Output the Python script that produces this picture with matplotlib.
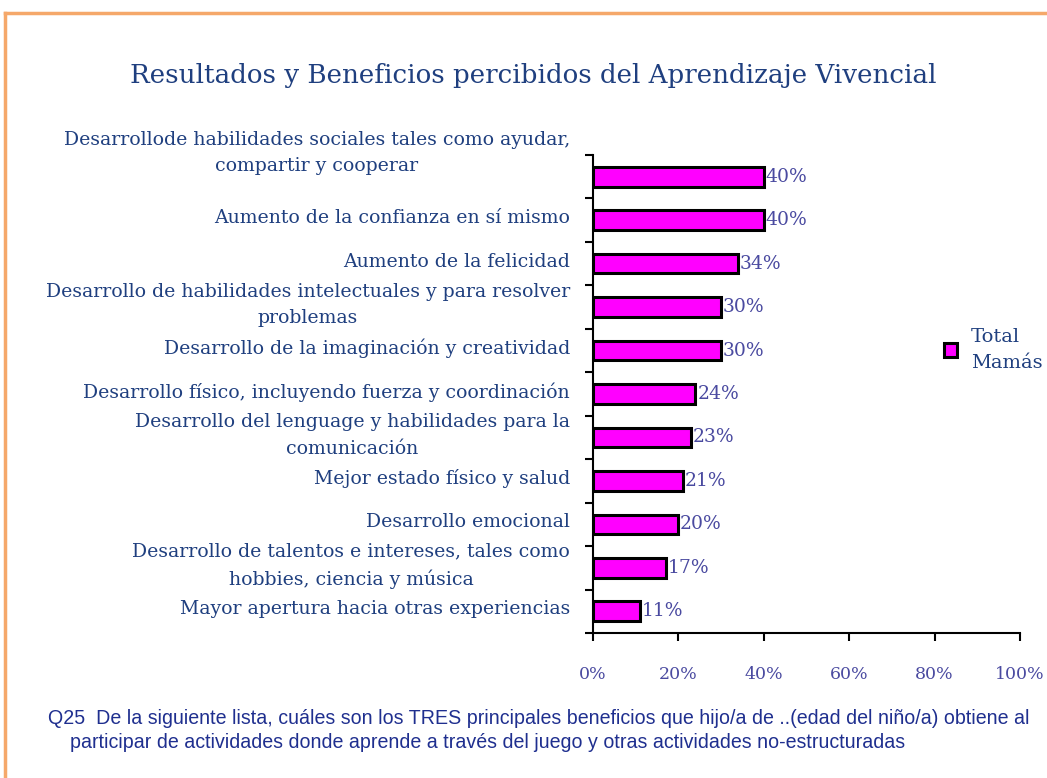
import matplotlib.pyplot as plt
from matplotlib.patches import Rectangle
from matplotlib.lines import Line2D
from matplotlib.transforms import ScaledTranslation, blended_transform_factory
import numpy as np

categories = [
    "Desarrollode habilidades sociales tales como ayudar,\ncompartir y cooperar",
    "Aumento de la confianza en sí mismo",
    "Aumento de la felicidad",
    "Desarrollo de habilidades intelectuales y para resolver\nproblemas",
    "Desarrollo de la imaginación y creatividad",
    "Desarrollo físico, incluyendo fuerza y coordinación",
    "Desarrollo del lenguage y habilidades para la\ncomunicación",
    "Mejor estado físico y salud",
    "Desarrollo emocional",
    "Desarrollo de talentos e intereses, tales como\nhobbies, ciencia y música",
    "Mayor apertura hacia otras experiencias",
]
values = [40, 40, 34, 30, 30, 24, 23, 21, 20, 17, 11]
xticks = [0, 20, 40, 60, 80, 100]
xtick_labels = ["0%", "20%", "40%", "60%", "80%", "100%"]
series_name = "Total\nMamás"

label_blue = "#1f3f7f"
value_blue = "#4a4aa0"
serif = "DejaVu Serif"

fig = plt.figure(figsize=(10.47, 7.78), dpi=100)
fig.patch.set_facecolor("white")

# orange frame on left and top
fig.add_artist(Line2D([5 / 1047, 5 / 1047], [0, 1 - 13 / 778], color="#f5a86a", lw=2.5, transform=fig.transFigure))
fig.add_artist(Line2D([5 / 1047, 1], [1 - 13 / 778, 1 - 13 / 778], color="#f5a86a", lw=2.5, transform=fig.transFigure))

ax = fig.add_axes([593 / 1047, 1 - 633 / 778, 427 / 1047, (633 - 155) / 778])

y = np.arange(len(categories))
ax.barh(y, values, height=0.45, color="#ff00ff", edgecolor="black", linewidth=2.2)
for yi, v in zip(y, values):
    ax.text(v + 0.4, yi, f"{v}%", va="center", ha="left", color=value_blue,
            fontsize=13.5, family=serif)

ax.set_xlim(0, 100)
ax.set_ylim(len(categories) - 0.5, -0.5)

# category labels, drawn as text so the first one can sit a bit higher
lab_tr = blended_transform_factory(ax.transAxes, ax.transData)
for yi, cat in zip(y, categories):
    dy = 0.24 if yi == 0 else 0.02
    ax.text(0, yi, cat, ha="right", va="center", multialignment="center",
            fontsize=13.6, family=serif, color=label_blue, linespacing=1.6,
            transform=lab_tr + ScaledTranslation(-0.23, dy, fig.dpi_scale_trans))

ax.set_yticks(np.arange(-0.5, len(categories)))
ax.set_yticklabels([])
ax.tick_params(axis="y", length=6, width=1.5, direction="out")
ax.set_xticks(xticks)
ax.set_xticklabels(xtick_labels, fontsize=12.5, family=serif, color=value_blue)
ax.tick_params(axis="x", length=6, width=1.5, direction="out", pad=18)

for s in ["top", "right"]:
    ax.spines[s].set_visible(False)
for s in ["left", "bottom"]:
    ax.spines[s].set_linewidth(1.5)

handle = Rectangle((0, 0), 1, 1, facecolor="#ff00ff", edgecolor="black", linewidth=2.2)
leg = fig.legend([handle], [series_name], loc="center left",
                 bbox_to_anchor=(926 / 1047, 1 - 350 / 778), frameon=False,
                 prop={"family": serif, "size": 14}, handlelength=0.7,
                 handleheight=0.7, handletextpad=0.7)
for t in leg.get_texts():
    t.set_color(label_blue)
    t.set_linespacing(1.55)

fig.text(533 / 1047, 1 - 75 / 778,
         "Resultados y Beneficios percibidos del Aprendizaje Vivencial",
         ha="center", va="center", fontsize=18.8, family=serif, color=label_blue)

fig.text(48 / 1047, 1 - 719 / 778,
         "Q25  De la siguiente lista, cuáles son los TRES principales beneficios que hijo/a de ..(edad del niño/a) obtiene al",
         ha="left", va="center", fontsize=14.1, family="Liberation Sans", color="#1f2f8f")
fig.text(70 / 1047, 1 - 743 / 778,
         "participar de actividades donde aprende a través del juego y otras actividades no-estructuradas",
         ha="left", va="center", fontsize=14.1, family="Liberation Sans", color="#1f2f8f")

fig.savefig("out.png", dpi=100)
